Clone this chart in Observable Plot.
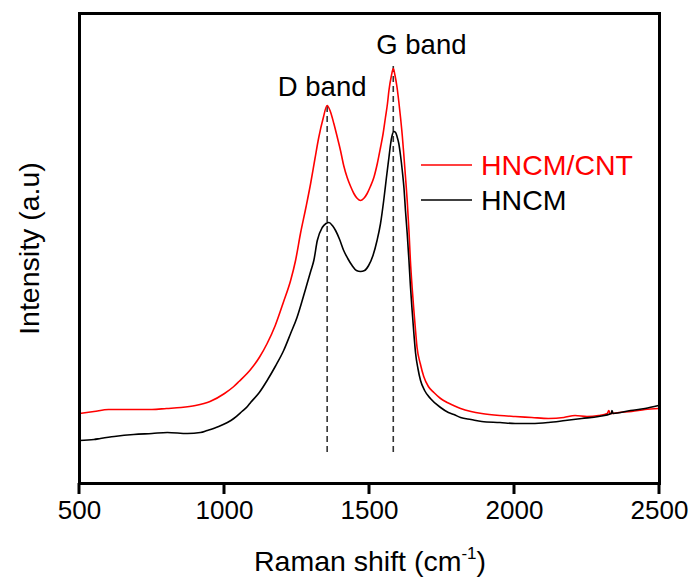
<!DOCTYPE html>
<html>
<head>
<meta charset="utf-8">
<script src="https://cdn.jsdelivr.net/npm/d3@7"></script>
<script src="https://cdn.jsdelivr.net/npm/@observablehq/plot@0.6"></script>
<style>
  html, body { margin: 0; padding: 0; background: white; }
  #chart { width: 696px; height: 585px; }
</style>
</head>
<body>
<div id="chart"></div>
<script>
// Raman shift (cm^-1) and intensity (a.u.)
const cntShift = [500,550,600,650,700,750,800,850,900,950,1000,1032,1050,1090,1120,1147,1175,1204,1228,1245,1262,1280,1297,1312,1325,1340,1354,1365,1377,1390,1400,1411,1423,1435,1446,1458,1469,1480,1492,1503,1515,1527,1538,1547,1555,1562,1567,1575,1582,1588,1595,1601,1607,1613,1618,1624,1630,1636,1641,1647,1653,1659,1664,1675,1687,1703,1722,1745,1768,1790,1814,1850,1887,1950,2002,2060,2117,2170,2209,2250,2290,2320,2325,2330,2360,2404,2450,2497];
const cntIntensity = [70,72,74,74,74,74,75,76,78,82,90,97,102,114,126,140,158,182,203,223,250,275,300,325,346,365,378,372,360,345,333,318,306,297,290,285,283,285,290,297,306,320,336,350,366,380,393,407,415,408,396,382,366,348,330,307,283,253,223,196,173,152,136,120,107,97,91,85,81,78,75,72,70,68,67,66,65,66,68,67,68,70,73,70,71,72,74,75];

const hncmShift = [500,550,572,620,687,750,803,872,917,940,980,1010,1032,1060,1079,1090,1120,1147,1175,1204,1228,1250,1268,1285,1298,1308,1320,1337,1350,1360,1372,1383,1397,1411,1425,1440,1455,1469,1483,1497,1512,1526,1538,1549,1558,1567,1573,1578,1584,1590,1595,1601,1607,1613,1619,1624,1630,1636,1641,1647,1653,1659,1667,1676,1690,1710,1745,1772,1791,1814,1850,1887,1950,2002,2060,2117,2175,2232,2290,2334,2336,2340,2400,2450,2497];
const hncmIntensity = [43,44,45,47,49,50,51,50,51,53,57,61,65,72,77,81,91,103,117,133,150,166,183,200,213,223,243,256,260,261,258,253,244,233,225,218,213,212,213,218,228,243,260,283,305,326,340,348,352,351,347,340,328,313,295,273,250,223,198,173,150,130,115,103,93,85,76,71,69,66,64,62,61,60,60,61,63,65,67,70,73,70,73,75,78];

const bandNames = ["D band", "G band"];
const bandShift = [1354, 1582];
const bandTop = [378, 420];
const dashBottom = 31;

const xTicks = [500, 1000, 1500, 2000, 2500];
const seriesNames = ["HNCM/CNT", "HNCM"];
const seriesColors = ["#ff0000", "#000000"];

const cntRows = cntShift.map((x, i) => ({x, y: cntIntensity[i]}));
const hncmRows = hncmShift.map((x, i) => ({x, y: hncmIntensity[i]}));
const bands = bandNames.map((name, i) => ({name, shift: bandShift[i], top: bandTop[i], y1: dashBottom}));

const font = "'Liberation Sans', Arial, sans-serif";
const W = 696, H = 585, mL = 79, mR = 37, mT = 13, mB = 102;

const chart = Plot.plot({
  width: W,
  height: H,
  marginLeft: mL,
  marginRight: mR,
  marginTop: mT,
  marginBottom: mB,
  style: {fontFamily: font, fontSize: "27px", background: "white", color: "black", overflow: "visible"},
  x: {domain: [500, 2500]},
  y: {domain: [0, 470], axis: null},
  marks: [
    Plot.ruleX(bands, {x: "shift", y1: "y1", y2: "top", stroke: "#333", strokeWidth: 1.6, strokeDasharray: "6,4"}),
    Plot.line(cntRows, {x: "x", y: "y", stroke: seriesColors[0], strokeWidth: 1.6, curve: "monotone-x"}),
    Plot.line(hncmRows, {x: "x", y: "y", stroke: seriesColors[1], strokeWidth: 1.6, curve: "monotone-x"}),
    Plot.text(bands.slice(0, 1), {x: "shift", y: "top", text: "name", textAnchor: "middle", dx: -5, dy: -18, fontSize: 27.5, fill: "black"}),
    Plot.text(bands.slice(1, 2), {x: "shift", y: "top", text: "name", textAnchor: "start", dx: -17, dy: -18, fontSize: 27.5, fill: "black"}),
    Plot.frame({stroke: "black", strokeWidth: 3}),
    Plot.axisX({ticks: xTicks, tickSize: 0, tickPadding: 17, label: null, fontSize: 26, tickFormat: d => String(d)})
  ]
});

const svg = d3.select(chart);
const xScale = chart.scale("x");

// outward tick marks below the frame, placed with Plot's x scale
const tg = svg.append("g");
xTicks.forEach(t => {
  const px = xScale.apply(t);
  tg.append("line").attr("x1", px).attr("x2", px).attr("y1", H - mB).attr("y2", H - mB + 11)
    .attr("stroke", "black").attr("stroke-width", 3);
});

// legend
const leg = svg.append("g").attr("font-family", font).attr("font-size", 28.5).attr("text-anchor", "start");
seriesNames.forEach((name, i) => {
  const y = 165 + i * 35;
  leg.append("line").attr("x1", 421).attr("x2", 472).attr("y1", y).attr("y2", y)
    .attr("stroke", seriesColors[i]).attr("stroke-width", 1.6);
  leg.append("text").attr("x", 481).attr("y", y).attr("dy", "0.35em")
    .attr("text-anchor", "start").attr("fill", seriesColors[i]).text(name);
});

// axis titles
const xl = svg.append("text").attr("x", 370).attr("y", 571).attr("text-anchor", "middle")
  .attr("font-family", font).attr("font-size", 28.5).attr("fill", "black");
xl.append("tspan").text("Raman shift (cm");
xl.append("tspan").attr("font-size", 17).attr("dy", -12).text("-1");
xl.append("tspan").attr("dy", 12).text(")");

svg.append("text").attr("transform", "translate(39,248.5) rotate(-90)").attr("text-anchor", "middle")
  .attr("font-family", font).attr("font-size", 28.5).attr("fill", "black").text("Intensity (a.u)");

document.getElementById("chart").appendChild(chart);
</script>
</body>
</html>
